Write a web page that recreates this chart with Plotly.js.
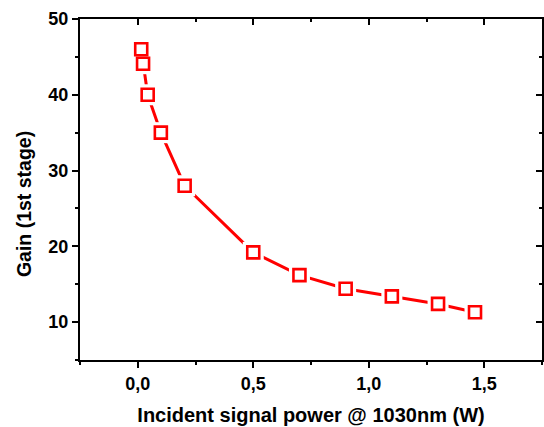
<!DOCTYPE html>
<html>
<head>
<meta charset="utf-8">
<script src="https://cdn.plot.ly/plotly-3.0.1.min.js"></script>
<style>html,body{margin:0;padding:0;background:#fff;}#chart{width:544px;height:427px;}</style>
</head>
<body>
<div id="chart"></div>
<script>
// Data
const powerW = [0.015, 0.023, 0.043, 0.10, 0.203, 0.50, 0.70, 0.90, 1.10, 1.30, 1.46];
const gain = [46.0, 44.1, 40.0, 35.0, 28.0, 19.2, 16.2, 14.4, 13.4, 12.4, 11.3];
const xTitle = 'Incident signal power @ 1030nm (W)';
const yTitle = 'Gain (1st stage)';

const RED = '#ff0000';
const fontFam = '"Liberation Sans", Arial, sans-serif';
const tickFont = {family: fontFam, size: 18, color: '#000', weight: 'bold'};
const titleFont = {family: fontFam, size: 20, color: '#000', weight: 'bold'};

const traces = [
  {x: powerW, y: gain, mode: 'lines', line: {color: RED, width: 3}, hoverinfo: 'skip', showlegend: false},
  {x: powerW, y: gain, mode: 'markers', marker: {symbol: 'square', size: 21, color: '#fff', line: {width: 0}}, hoverinfo: 'skip', showlegend: false},
  {x: powerW, y: gain, mode: 'markers', marker: {symbol: 'square-open', size: 12, color: RED, line: {color: RED, width: 2.6}}, showlegend: false}
];

const xr = [-0.25, 1.75], yr = [5, 50];
const layout = {
  width: 544, height: 427,
  margin: {l: 80, r: 2, t: 19, b: 67},
  paper_bgcolor: '#fff', plot_bgcolor: '#fff',
  separators: ',.',
  showlegend: false,
  xaxis: {
    range: xr, dtick: 0.5, tick0: 0, tickformat: '.1f',
    showgrid: false, zeroline: false,
    showline: true, linecolor: '#000', linewidth: 2, mirror: true,
    ticks: 'outside', ticklen: 6, tickwidth: 2, tickcolor: '#000',
    minor: {ticks: 'outside', ticklen: 3, tickwidth: 2, dtick: 0.25, tick0: 0, tickcolor: '#000', showgrid: false},
    tickfont: tickFont,
    title: {text: xTitle, font: titleFont, standoff: 15}
  },
  yaxis: {
    range: yr, dtick: 10, tick0: 0,
    showgrid: false, zeroline: false,
    showline: true, linecolor: '#000', linewidth: 2, mirror: true,
    ticks: 'outside', ticklen: 6, tickwidth: 2, tickcolor: '#000',
    minor: {ticks: 'outside', ticklen: 3, tickwidth: 2, dtick: 5, tick0: 0, tickcolor: '#000', showgrid: false},
    tickfont: tickFont
  },
  xaxis2: {
    range: xr, dtick: 0.5, tick0: 0, overlaying: 'x', side: 'top', anchor: 'y',
    showgrid: false, zeroline: false, showline: false, showticklabels: false,
    ticks: 'inside', ticklen: 6, tickwidth: 2, tickcolor: '#000',
    minor: {ticks: 'inside', ticklen: 3, tickwidth: 2, dtick: 0.25, tick0: 0, tickcolor: '#000', showgrid: false}
  },
  yaxis2: {
    range: yr, dtick: 10, tick0: 0, overlaying: 'y', side: 'right', anchor: 'x',
    showgrid: false, zeroline: false, showline: false, showticklabels: false,
    ticks: 'inside', ticklen: 6, tickwidth: 2, tickcolor: '#000',
    minor: {ticks: 'inside', ticklen: 3, tickwidth: 2, dtick: 5, tick0: 0, tickcolor: '#000', showgrid: false}
  },
  annotations: [{
    text: yTitle, textangle: -90, showarrow: false,
    xref: 'paper', yref: 'paper', x: -0.121, y: 0.4575,
    xanchor: 'center', yanchor: 'middle',
    font: {family: fontFam, size: 19.5, color: '#000', weight: 'bold'}
  }]
};
// invisible trace to activate the mirrored tick axes
traces.push({x: [powerW[0]], y: [gain[0]], xaxis: 'x2', yaxis: 'y2', mode: 'markers', marker: {opacity: 0}, hoverinfo: 'skip', showlegend: false});

Plotly.newPlot('chart', traces, layout, {staticPlot: true});
</script>
</body>
</html>
